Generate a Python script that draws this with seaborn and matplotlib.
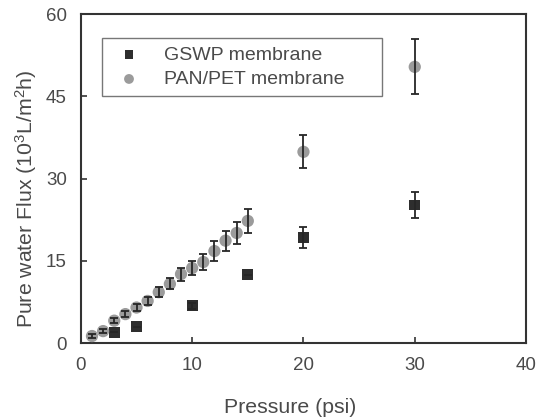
import matplotlib
matplotlib.use("Agg")
import matplotlib.pyplot as plt
import seaborn as sns
import pandas as pd

# Pure water flux vs. transmembrane pressure for two membranes
gswp_pressure = [3, 5, 10, 15, 20, 30]
gswp_flux = [2.0, 3.0, 6.8, 12.5, 19.3, 25.2]
gswp_err = [0.0, 0.0, 0.6, 0.0, 1.9, 2.4]

panpet_pressure = [1, 2, 3, 4, 5, 6, 7, 8, 9, 10, 11, 12, 13, 14, 15, 20, 30]
panpet_flux = [1.3, 2.2, 4.1, 5.3, 6.5, 7.7, 9.3, 10.8, 12.6, 13.7, 14.8,
               16.8, 18.7, 20.1, 22.3, 34.9, 50.4]
panpet_err = [0.3, 0.3, 0.5, 0.5, 0.6, 0.7, 0.9, 1.0, 1.2, 1.3, 1.5,
              1.8, 1.8, 2.0, 2.2, 3.0, 5.0]

x_ticks = [0, 10, 20, 30, 40]
y_ticks = [0, 15, 30, 45, 60]

sns.set_style("white")
plt.rcParams["font.family"] = ["Liberation Sans", "DejaVu Sans"]
plt.rcParams["mathtext.fontset"] = "custom"
plt.rcParams["mathtext.rm"] = "Liberation Sans"
plt.rcParams["mathtext.it"] = "Liberation Sans:italic"

text_color = "#4a4a4a"
spine_color = "#333333"
tick_fs = 13.5
label_fs = 15.3
legend_fs = 14

gswp = pd.DataFrame({"p": gswp_pressure, "flux": gswp_flux, "err": gswp_err})
panpet = pd.DataFrame({"p": panpet_pressure, "flux": panpet_flux, "err": panpet_err})

fig, ax = plt.subplots(figsize=(5.39, 4.19), dpi=100)
fig.subplots_adjust(left=0.150, right=0.976, top=0.966, bottom=0.181)

sns.scatterplot(data=gswp, x="p", y="flux", marker="s", s=62, color="#2e2e2e",
                edgecolor="none", label="GSWP membrane", ax=ax, zorder=3)
sns.scatterplot(data=panpet, x="p", y="flux", marker="o", s=78, color="#9b9b9b",
                edgecolor="none", label="PAN/PET membrane", ax=ax, zorder=3)

ax.errorbar(gswp["p"], gswp["flux"], yerr=gswp["err"], fmt="none",
            ecolor="#262626", elinewidth=1.3, capsize=3, capthick=1.3, zorder=4)
ax.errorbar(panpet["p"], panpet["flux"], yerr=panpet["err"], fmt="none",
            ecolor="#262626", elinewidth=1.3, capsize=3, capthick=1.3, zorder=4)

ax.set_xlim(0, 40)
ax.set_ylim(0, 60)
ax.set_xticks(x_ticks)
ax.set_yticks(y_ticks)
ax.tick_params(axis="both", direction="in", length=4, width=1.2,
               colors=spine_color, labelcolor=text_color, labelsize=tick_fs,
               top=False, right=False, bottom=True, left=True)
ax.tick_params(axis="x", pad=10)
ax.tick_params(axis="y", pad=10)

for side in ax.spines.values():
    side.set_visible(True)
    side.set_color(spine_color)
    side.set_linewidth(1.5)

ax.set_xlabel("Pressure (psi)", fontsize=label_fs, color=text_color)
ax.set_ylabel(r"Pure water Flux (10$^3$L/m$^2$h)", fontsize=label_fs,
              color=text_color)
ax.xaxis.set_label_coords(0.47, -0.168)
ax.yaxis.set_label_coords(-0.095, 0.44)

leg = ax.legend(loc="upper left", bbox_to_anchor=(0.047, 0.751, 0.629, 0.176),
                mode="expand", borderaxespad=0, fontsize=legend_fs, frameon=True,
                fancybox=False, edgecolor="#555555", handletextpad=0.8,
                handlelength=2.0, borderpad=0.4, labelspacing=0.35,
                markerscale=0.8)
leg.get_frame().set_linewidth(1.0)
for t in leg.get_texts():
    t.set_color(text_color)

fig.savefig("out.png", dpi=100)
